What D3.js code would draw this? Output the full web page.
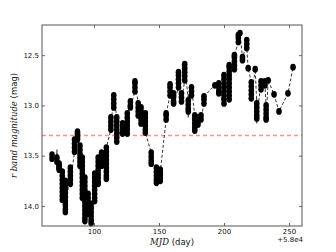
<!DOCTYPE html>
<html>
<head>
<meta charset="utf-8">
<script src="https://cdn.jsdelivr.net/npm/d3@7"></script>
<style>
  html, body { margin: 0; padding: 0; background: #fff; }
  svg { display: block; }
</style>
</head>
<body>
<script>
// ---- data ----
const xTicks = [100, 150, 200, 250];
const yTicks = [12.5, 13.0, 13.5, 14.0];
const yTickLabels = ["12.5", "13.0", "13.5", "14.0"];
const refMag = 13.3;

const nightMJD = [67.7, 71.5, 73.2, 75.6, 78.0, 81.8, 85.0, 87.3, 89.2, 91.0,
  93.0, 95.5, 97.8, 100.5, 103.2, 105.8, 109.5, 113.0, 115.2, 117.5,
  122.0, 124.0, 125.6, 128.0, 131.5, 134.0, 136.2, 139.5, 144.0, 148.0,
  151.0, 155.5, 158.5, 161.2, 165.0, 167.3, 169.8, 172.5, 175.0, 177.5,
  180.0, 182.3, 184.6, 193.0, 196.0, 200.0, 204.0, 208.0, 211.0, 212.3,
  214.2, 217.5, 218.6, 221.0, 224.0, 225.2, 228.5, 231.5, 232.4, 234.0,
  238.5, 242.3, 249.2, 253.1];

const nightMags = [
  [13.49, 13.53],
  [13.52, 13.56],
  [13.58, 13.61, 13.64, 13.62],
  [13.66, 13.70, 13.74, 13.78, 13.82, 13.86, 13.90, 13.94],
  [13.75, 13.79, 13.83, 13.87, 13.91, 13.95, 13.99, 14.03, 14.06],
  [13.62, 13.66, 13.70, 13.74, 13.78],
  [13.46, 13.42, 13.38, 13.34],
  [13.32, 13.28, 13.26, 13.30, 13.34],
  [13.40, 13.44, 13.48, 13.52, 13.56, 13.60],
  [13.52, 13.56, 13.60, 13.64, 13.68, 13.72, 13.76, 13.80, 13.84, 13.88, 13.92],
  [13.72, 13.76, 13.80, 13.84, 13.88, 13.92, 13.96, 14.00, 14.04, 14.08, 14.12, 14.15],
  [13.88, 13.92, 13.96, 14.00, 14.04, 14.08],
  [13.98, 14.02, 14.06, 14.10, 14.14, 14.17],
  [13.95, 13.92, 13.88, 13.84, 13.80, 13.76, 13.72, 13.68],
  [13.78, 13.76, 13.72, 13.68, 13.64, 13.60, 13.56, 13.52],
  [13.60, 13.58, 13.54, 13.50, 13.47],
  [13.73, 13.70, 13.66, 13.62, 13.58, 13.54, 13.50, 13.46, 13.42],
  [13.24, 13.20, 13.16, 13.12],
  [13.02, 12.98, 12.94, 12.90],
  [13.12, 13.16, 13.20, 13.24, 13.28, 13.32, 13.36],
  [13.18, 13.22, 13.26, 13.28],
  [13.22, 13.26],
  [13.28, 13.24, 13.20, 13.16, 13.12, 13.08],
  [12.96, 13.00, 13.02],
  [12.86, 12.82, 12.78, 12.76],
  [12.98, 13.02, 13.06, 13.10],
  [13.02, 13.06, 13.10, 13.14, 13.18],
  [13.08, 13.12, 13.16, 13.20, 13.24, 13.27],
  [13.47, 13.51, 13.55, 13.58],
  [13.62, 13.66, 13.70, 13.74, 13.77],
  [13.64, 13.68, 13.72, 13.75, 13.70, 13.66],
  [13.14, 13.10, 13.08],
  [12.90, 12.86, 12.82, 12.79],
  [12.88, 12.92, 12.96, 12.98],
  [12.82, 12.78, 12.74, 12.70, 12.67],
  [12.88, 12.92, 12.96],
  [12.75, 12.71, 12.67, 12.63, 12.59],
  [12.95, 12.99, 13.03, 13.06],
  [12.90, 12.86, 12.82],
  [13.10, 13.14, 13.18, 13.22, 13.25],
  [13.12, 13.16, 13.19],
  [13.10, 13.14],
  [12.98, 12.94, 12.91],
  [12.80],
  [12.78, 12.82, 12.86, 12.88],
  [12.98, 12.94, 12.90, 12.86, 12.82, 12.78, 12.74, 12.70],
  [12.94, 12.90, 12.86, 12.82, 12.78, 12.74, 12.70, 12.66, 12.62, 12.60],
  [12.64, 12.60, 12.56, 12.52, 12.50],
  [12.37, 12.33, 12.30],
  [12.28],
  [12.52, 12.55],
  [12.35, 12.39, 12.43],
  [12.63],
  [12.77, 12.81, 12.85, 12.89, 12.93],
  [12.64],
  [12.98, 13.02, 13.06, 13.10, 13.13],
  [12.76, 12.80, 12.84],
  [12.76, 12.80],
  [13.00, 13.04, 13.08, 13.12, 13.14],
  [12.75],
  [12.89],
  [13.06],
  [12.88],
  [12.62]
];

const nightErr = [0.02, 0.08, 0.02, 0.02, 0.02, 0.02, 0.02, 0.02, 0.02, 0.02,
  0.02, 0.02, 0.02, 0.02, 0.02, 0.02, 0.02, 0.02, 0.02, 0.02,
  0.02, 0.02, 0.02, 0.02, 0.02, 0.02, 0.02, 0.02, 0.02, 0.02,
  0.02, 0.02, 0.02, 0.02, 0.02, 0.02, 0.02, 0.06, 0.02, 0.02,
  0.02, 0.02, 0.02, 0.02, 0.02, 0.02, 0.02, 0.02, 0.02, 0.02,
  0.02, 0.02, 0.02, 0.02, 0.02, 0.05, 0.02, 0.02, 0.02, 0.02,
  0.02, 0.02, 0.02, 0.02];

// ---- layout ----
const W = 336, H = 252;
const m = { left: 42, right: 34, top: 25, bottom: 26 };
const pw = W - m.left - m.right, ph = H - m.top - m.bottom;

const points = [];
nightMJD.forEach((t, i) => {
  nightMags[i].forEach(v => points.push({ t: t, m: v, e: nightErr[i] }));
});

const svg = d3.select("body").append("svg").attr("width", W).attr("height", H);

const x = d3.scaleLinear().domain([60, 260]).range([m.left, m.left + pw]);
const y = d3.scaleLinear().domain([12.2, 14.2]).range([m.top, m.top + ph]);

const g = svg.append("g");

// reference line
g.append("line")
  .attr("x1", x(60)).attr("x2", x(260))
  .attr("y1", y(refMag)).attr("y2", y(refMag))
  .attr("stroke", "#ff9090").attr("stroke-width", 1.6)
  .attr("stroke-dasharray", "4,3");

// dashed connecting line
g.append("path")
  .datum(points)
  .attr("fill", "none")
  .attr("stroke", "#000")
  .attr("stroke-width", 0.8)
  .attr("stroke-dasharray", "3,2")
  .attr("d", d3.line().x(d => x(d.t)).y(d => y(d.m)));

// error bars
g.selectAll("line.err").data(points).enter().append("line")
  .attr("class", "err")
  .attr("x1", d => x(d.t)).attr("x2", d => x(d.t))
  .attr("y1", d => y(d.m - d.e)).attr("y2", d => y(d.m + d.e))
  .attr("stroke", "#000").attr("stroke-width", 0.9);

// markers
g.selectAll("ellipse.pt").data(points).enter().append("ellipse")
  .attr("class", "pt")
  .attr("cx", d => x(d.t)).attr("cy", d => y(d.m))
  .attr("rx", 2.8).attr("ry", 3.4)
  .attr("fill", "#000");

// axes (ticks inward, all four sides)
const tickFont = "DejaVu Sans, sans-serif";
const xb = svg.append("g").attr("transform", `translate(0,${m.top + ph})`)
  .call(d3.axisBottom(x).tickValues(xTicks).tickSize(-3).tickPadding(3).tickFormat(d3.format("d")));
const xt = svg.append("g").attr("transform", `translate(0,${m.top})`)
  .call(d3.axisTop(x).tickValues(xTicks).tickSize(-3).tickFormat(""));
const yl = svg.append("g").attr("transform", `translate(${m.left},0)`)
  .call(d3.axisLeft(y).tickValues(yTicks).tickSize(-3).tickPadding(3).tickFormat((d, i) => yTickLabels[i]));
const yr = svg.append("g").attr("transform", `translate(${m.left + pw},0)`)
  .call(d3.axisRight(y).tickValues(yTicks).tickSize(-3).tickFormat(""));

[xb, xt, yl, yr].forEach(a => {
  a.select(".domain").remove();
  a.selectAll(".tick line").attr("stroke", "#444").attr("stroke-width", 0.8);
  a.selectAll(".tick text").attr("font-family", tickFont).attr("font-size", 7).attr("fill", "#111");
});

// frame
svg.append("rect")
  .attr("x", m.left).attr("y", m.top).attr("width", pw).attr("height", ph)
  .attr("fill", "none").attr("stroke", "#555").attr("stroke-width", 1);

// offset text
svg.append("text")
  .attr("x", m.left + pw + 1).attr("y", 242)
  .attr("text-anchor", "end")
  .attr("font-family", tickFont).attr("font-size", 7).attr("fill", "#111")
  .text("+5.8e4");

// x label
const xlab = svg.append("text")
  .attr("x", m.left + pw / 2).attr("y", 245)
  .attr("text-anchor", "middle").attr("fill", "#111");
xlab.append("tspan").attr("font-family", "DejaVu Serif, serif").attr("font-style", "italic").attr("font-size", 8.5).text("MJD");
xlab.append("tspan").attr("font-family", tickFont).attr("font-size", 8.5).text(" (day)");

// y label
const ylab = svg.append("text")
  .attr("transform", `translate(17,${m.top + ph / 2}) rotate(-90)`)
  .attr("text-anchor", "middle").attr("fill", "#111");
ylab.append("tspan").attr("font-family", "DejaVu Serif, serif").attr("font-style", "italic").attr("font-size", 8.5).text("r band magnitude");
ylab.append("tspan").attr("font-family", tickFont).attr("font-size", 8.5).text(" (mag)");
</script>
</body>
</html>
